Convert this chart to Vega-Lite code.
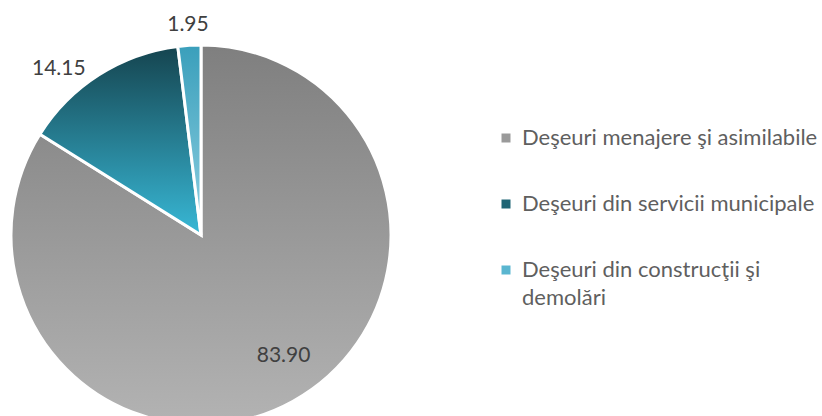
{
  "$schema": "https://vega.github.io/schema/vega-lite/v6.json",
  "width": 402,
  "height": 470,
  "padding": 0,
  "autosize": {"type": "pad"},
  "background": "white",
  "config": {
    "view": {"stroke": null},
    "font": "Lato",
    "style": {"guide-label": {"lineHeight": 28}}
  },
  "data": {
    "values": [
      {"cat": "Deşeuri menajere şi asimilabile", "value": 83.90, "order": 1},
      {"cat": "Deşeuri din servicii municipale", "value": 14.15, "order": 2},
      {"cat": "Deşeuri din construcţii şi demolări", "value": 1.95, "order": 3}
    ]
  },
  "encoding": {
    "theta": {"field": "value", "type": "quantitative", "stack": true},
    "order": {"field": "order", "type": "quantitative"}
  },
  "layer": [
    {
      "mark": {"type": "arc", "outerRadius": 190, "stroke": "white", "strokeWidth": 3},
      "encoding": {
        "color": {
          "field": "cat",
          "type": "nominal",
          "scale": {
            "domain": ["Deşeuri menajere şi asimilabile", "Deşeuri din servicii municipale", "Deşeuri din construcţii şi demolări"],
            "range": ["#9a9a9a", "#1f6575", "#5ab6d0"]
          },
          "sort": null,
          "legend": {
            "title": null,
            "orient": "none",
            "legendX": 495,
            "legendY": 127,
            "symbolType": "square",
            "symbolSize": 81,
            "symbolStrokeWidth": 0,
            "labelFont": "Lato",
            "labelFontSize": 22,
            "labelColor": "#5f5f5f",
            "labelOffset": 5,
            "labelLimit": 400,
            "rowPadding": 44,
            "labelExpr": "datum.label == 'Deşeuri din construcţii şi demolări' ? ['Deşeuri din construcţii şi', 'demolări'] : datum.label"
          }
        }
      }
    },
    {
      "mark": {"type": "arc", "outerRadius": 190, "stroke": "white", "strokeWidth": 3},
      "encoding": {
        "fill": {
          "condition": [
            {
              "test": "datum.order == 1",
              "value": {"gradient": "linear", "x1": 0, "y1": 0, "x2": 0, "y2": 1,
                "stops": [{"offset": 0, "color": "#7f7f7f"}, {"offset": 1, "color": "#b3b3b3"}]}
            },
            {
              "test": "datum.order == 2",
              "value": {"gradient": "linear", "x1": 0, "y1": 0, "x2": 0, "y2": 1,
                "stops": [{"offset": 0, "color": "#15444f"}, {"offset": 1, "color": "#38b8d6"}]}
            }
          ],
          "value": {"gradient": "linear", "x1": 0, "y1": 0, "x2": 0, "y2": 1,
            "stops": [{"offset": 0, "color": "#3a9fbb"}, {"offset": 1, "color": "#8fd0e2"}]}
        },
        "detail": {"field": "cat", "type": "nominal"}
      }
    },
    {
      "mark": {"type": "text", "radius": 158, "dx": 6, "dy": -17, "font": "Lato", "fontSize": 21, "color": "#404040", "baseline": "middle", "align": "center"},
      "encoding": {
        "detail": {"field": "cat", "type": "nominal"},
        "text": {"condition": {"test": "datum.order == 1", "field": "value", "type": "quantitative", "format": ".2f"}, "value": ""}
      }
    },
    {
      "mark": {"type": "text", "radius": 220, "dx": -24, "dy": 20, "font": "Lato", "fontSize": 21, "color": "#404040", "baseline": "middle", "align": "center"},
      "encoding": {
        "detail": {"field": "cat", "type": "nominal"},
        "text": {"condition": {"test": "datum.order == 2", "field": "value", "type": "quantitative", "format": ".2f"}, "value": ""}
      }
    },
    {
      "mark": {"type": "text", "radius": 213, "dx": 0, "dy": 3, "font": "Lato", "fontSize": 21, "color": "#404040", "baseline": "middle", "align": "center"},
      "encoding": {
        "detail": {"field": "cat", "type": "nominal"},
        "text": {"condition": {"test": "datum.order == 3", "field": "value", "type": "quantitative", "format": ".2f"}, "value": ""}
      }
    }
  ]
}
